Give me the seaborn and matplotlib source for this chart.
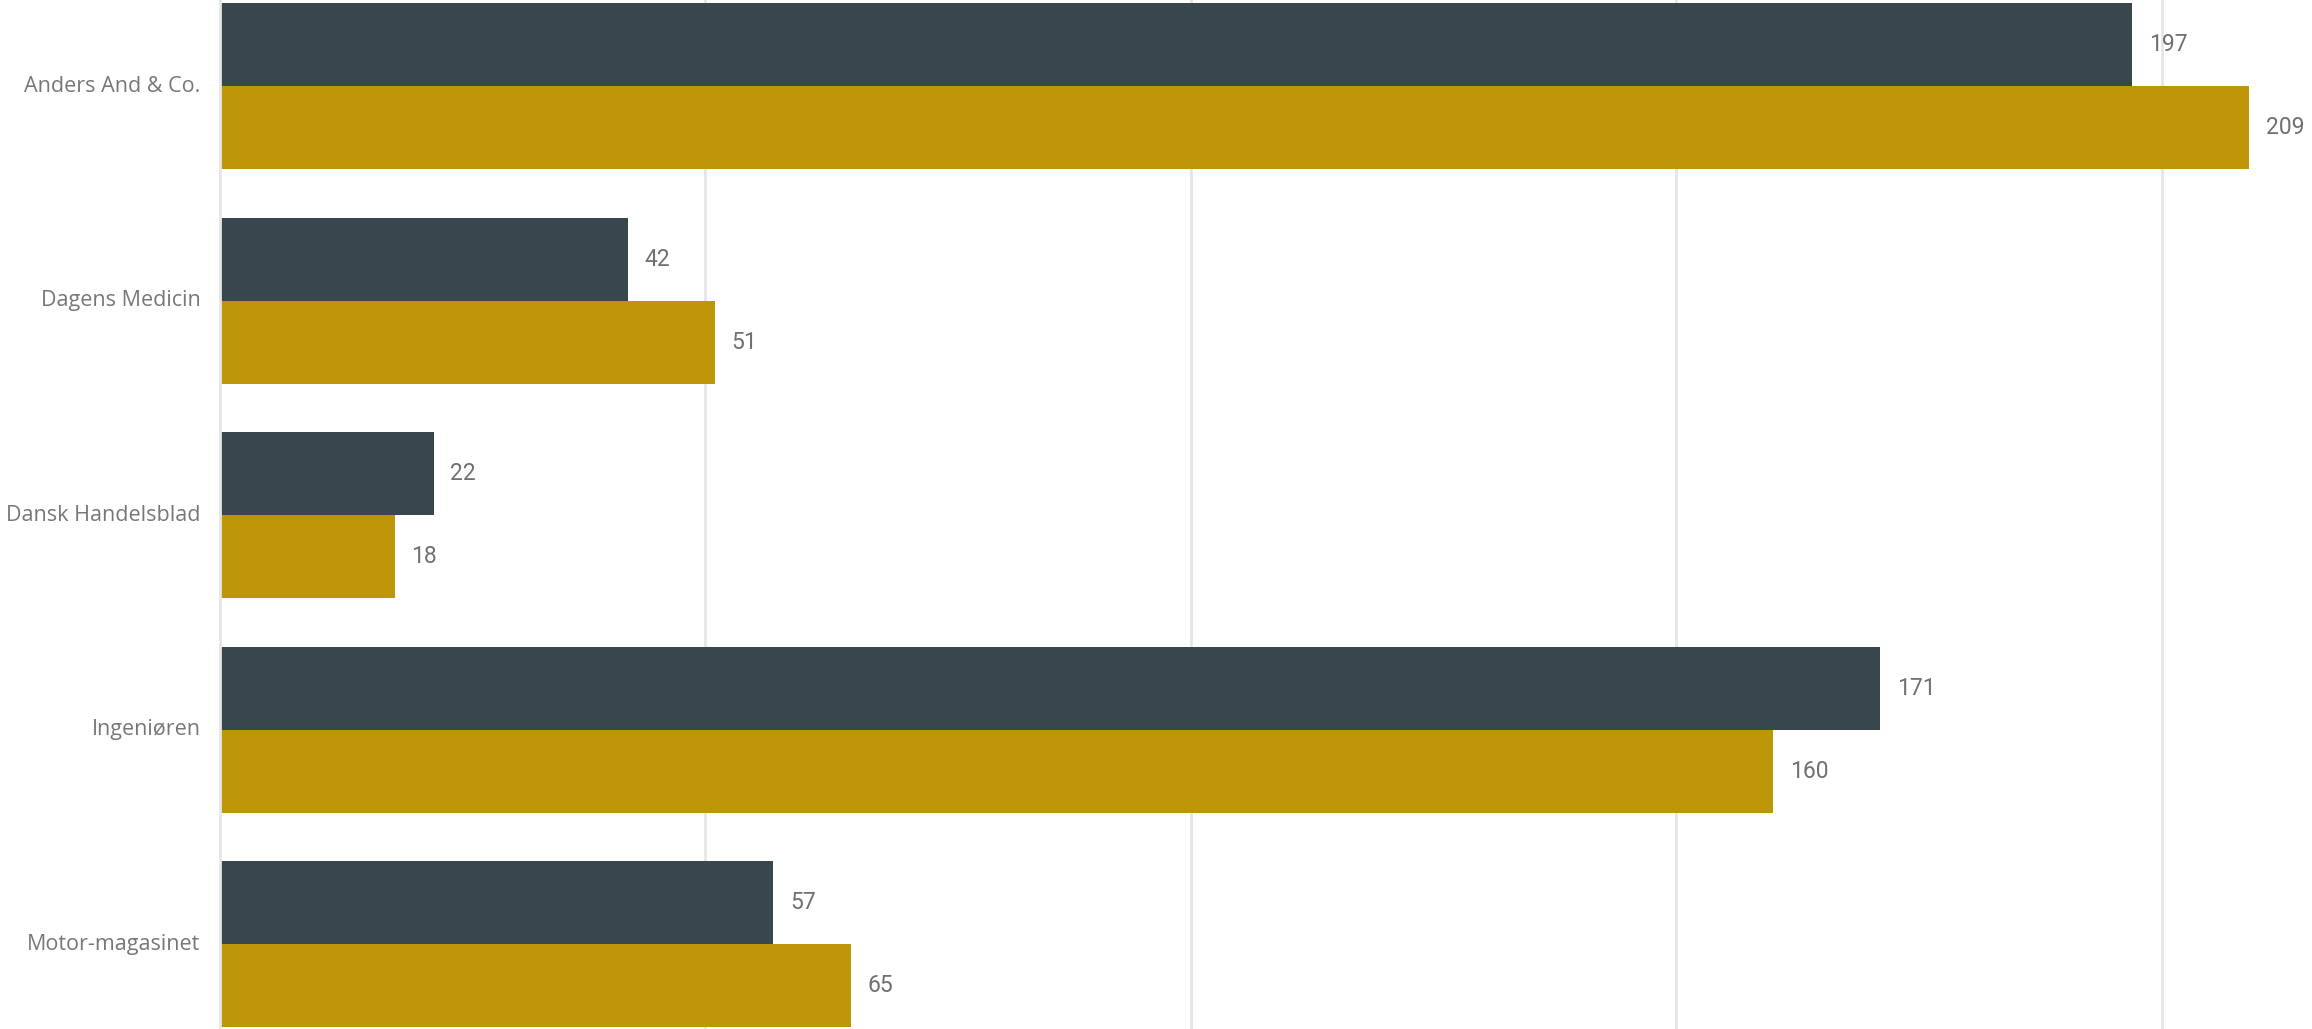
import pandas as pd
import matplotlib.pyplot as plt
import seaborn as sns

categories = ["Anders And & Co.", "Dagens Medicin", "Dansk Handelsblad", "Ingeniøren", "Motor-magasinet"]
series_names = ["Serie A", "Serie B"]
values_a = [197, 42, 22, 171, 57]
values_b = [209, 51, 18, 160, 65]
colors = ["#37474B", "#BD9608"]

df = pd.DataFrame({
    "category": categories * 2,
    "serie": [series_names[0]] * len(categories) + [series_names[1]] * len(categories),
    "value": values_a + values_b})

sns.set_style("white")
plt.rcParams["font.family"] = ["Open Sans", "DejaVu Sans"]

fig = plt.figure(figsize=(23.12, 10.29), dpi=100)
ax = fig.add_axes([220 / 2312, 0, (2312 - 220) / 2312, 1])

sns.barplot(
    data=df,
    y="category",
    x="value",
    hue="serie",
    order=categories,
    hue_order=series_names,
    palette=colors,
    orient="h",
    width=0.774,
    saturation=1,
    linewidth=0,
    legend=False,
    ax=ax)

for container in ax.containers:
    ax.bar_label(container, fmt="%d", padding=12, color="#707070",
                 fontsize=16.5, family=["Roboto", "DejaVu Sans"])

ax.set_xlim(0, 215.5)
ax.set_ylim(4.396, -0.401)
ax.set_xticks([50, 100, 150, 200])
ax.xaxis.grid(True, color="#e6e6e6", linewidth=2)
ax.set_axisbelow(True)
ax.tick_params(axis="x", length=0, labelbottom=False)
ax.tick_params(axis="y", length=0, pad=14, labelsize=15.5, labelcolor="#777777")
for lbl in ax.get_yticklabels():
    lbl.set_verticalalignment("center")
ax.set_xlabel("")
ax.set_ylabel("")

for side in ["top", "right", "bottom"]:
    ax.spines[side].set_visible(False)
ax.spines["left"].set_color("#e6e6e6")
ax.spines["left"].set_linewidth(2)

fig.savefig("out.png", dpi=100)
